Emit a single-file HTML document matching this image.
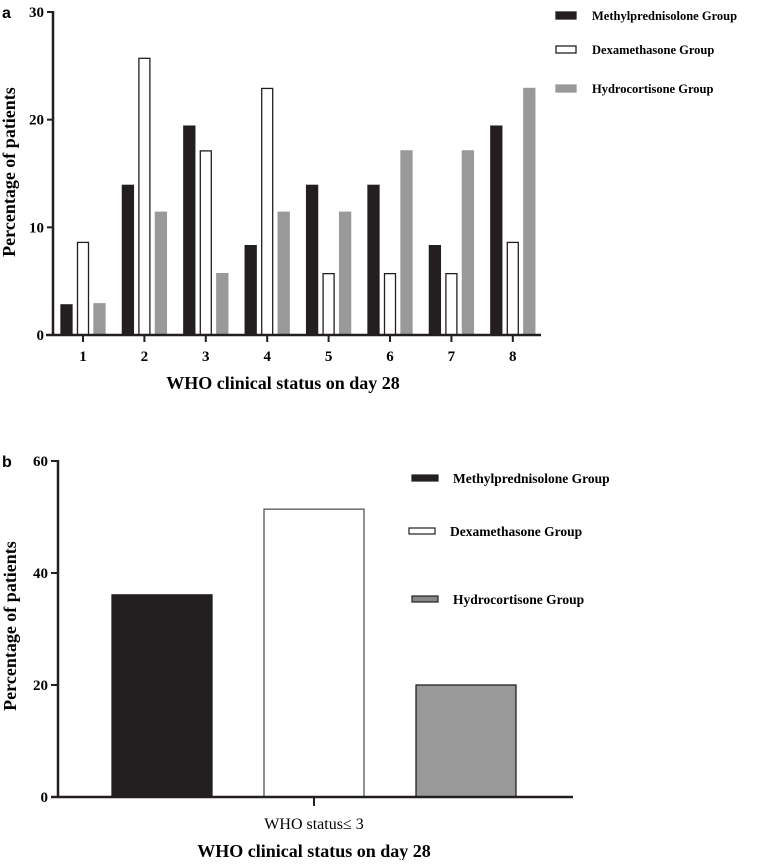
<!DOCTYPE html>
<html><head><meta charset="utf-8"><style>
body{margin:0;background:#fff;width:762px;height:860px;overflow:hidden}
svg{font-family:"Liberation Serif",serif;font-weight:bold}
</style></head><body>
<svg id="s" width="762" height="860">
<g id="ga"></g>
<g id="gb"></g>
</svg>
<script>
const categoriesA=["1","2","3","4","5","6","7","8"];
const methylA=[2.8,13.9,19.4,8.3,13.9,13.9,8.3,19.4];
const dexaA=[8.6,25.7,17.1,22.9,5.7,5.7,5.7,8.6];
const hydroA=[2.9,11.4,5.7,11.4,11.4,17.1,17.1,22.9];
const ticksA=[0,10,20,30];
const categoriesB=["WHO status≤ 3"];
const valuesB=[36.1,51.4,20.0];
const ticksB=[0,20,40,60];
const seriesNames=["Methylprednisolone  Group","Dexamethasone  Group","Hydrocortisone Group"];
const NS="http://www.w3.org/2000/svg";
function mk(p,t,a,txt){const e=document.createElementNS(NS,t);for(const k in a)e.setAttribute(k,a[k]);if(txt!==undefined)e.textContent=txt;p.appendChild(e);return e;}
const fills=["#231f20","#fff","#999"],strokes=["#231f20","#231f20","#999"];
// chart a
(function(){
const g=document.getElementById('ga');
const y=v=>335-v*(323/30), x=i=>83+i*61.4;
mk(g,'text',{x:2,y:18,'font-family':'Liberation Sans','font-size':16},'a');
ticksA.forEach(t=>{mk(g,'line',{x1:47,x2:53,y1:y(t),y2:y(t),stroke:'#231f20','stroke-width':2});
const e=mk(g,'text',{x:44,y:y(t)+5,'text-anchor':'end','font-size':15},t);});
const sets=[methylA,dexaA,hydroA];
categoriesA.forEach((c,i)=>{
sets.forEach((s,j)=>{const r=mk(g,'rect',{x:x(i)+(j-1)*16.5-5.5,y:y(s[i]),width:11,height:335-y(s[i]),fill:fills[j],stroke:strokes[j],'stroke-width':1.3});
});
mk(g,'line',{x1:x(i),x2:x(i),y1:335,y2:342,stroke:'#231f20','stroke-width':2});
const t=mk(g,'text',{x:x(i),y:361,'text-anchor':'middle','font-size':15},c);
});
mk(g,'line',{x1:53,x2:53,y1:11,y2:336,stroke:'#231f20','stroke-width':2.5});
mk(g,'line',{x1:46,x2:541,y1:335,y2:335,stroke:'#231f20','stroke-width':2.5});
const xt=mk(g,'text',{x:283,y:389,'text-anchor':'middle','font-size':18},'WHO clinical status on day 28');
const yt=mk(g,'text',{x:0,y:0,transform:'translate(15,172) rotate(-90)','text-anchor':'middle','font-size':18},'Percentage of patients');
[16,50,89].forEach((ly,j)=>{const r=mk(g,'rect',{x:556,y:ly-4,width:20,height:7,fill:fills[j],stroke:strokes[j]=='#999'?'#999':'#231f20','stroke-width':1.3});
const t=mk(g,'text',{x:592,y:ly+4,'font-size':12.5},seriesNames[j]);});
})();
// chart b
(function(){
const g=document.getElementById('gb');
const y=v=>797-v*(336/60);
mk(g,'text',{x:2,y:467,'font-family':'Liberation Sans','font-size':16},'b');
ticksB.forEach(t=>{mk(g,'line',{x1:51,x2:58,y1:y(t),y2:y(t),stroke:'#231f20','stroke-width':2});
const e=mk(g,'text',{x:48,y:y(t)+5,'text-anchor':'end','font-size':15},t);});
const cx=314;
valuesB.forEach((v,j)=>{const r=mk(g,'rect',{x:cx+(j-1)*152-50,y:y(v),width:100,height:797-y(v),fill:fills[j],stroke:j==1?'#555':'#231f20','stroke-width':1.3});
});
mk(g,'line',{x1:cx,x2:cx,y1:797,y2:806,stroke:'#231f20','stroke-width':2});
const t=mk(g,'text',{x:cx,y:829,'text-anchor':'middle','font-size':16,'font-weight':'normal'},categoriesB[0]);
mk(g,'line',{x1:58,x2:58,y1:460,y2:798,stroke:'#231f20','stroke-width':2.5});
mk(g,'line',{x1:51,x2:573,y1:797,y2:797,stroke:'#231f20','stroke-width':2.5});
const xt=mk(g,'text',{x:314,y:857,'text-anchor':'middle','font-size':18},'WHO clinical status on day 28');
const yt=mk(g,'text',{x:0,y:0,transform:'translate(16,626) rotate(-90)','text-anchor':'middle','font-size':18},'Percentage of patients');
[[412,478],[409,531],[412,599]].forEach((p,j)=>{const r=mk(g,'rect',{x:p[0],y:p[1]-3,width:26,height:6,fill:fills[j]=='#999'?'#888':fills[j],stroke:'#231f20','stroke-width':1.2});
const t=mk(g,'text',{x:p[0]+41,y:p[1]+5,'font-size':13.5},seriesNames[j]);});
})();
</script>
</body></html>
